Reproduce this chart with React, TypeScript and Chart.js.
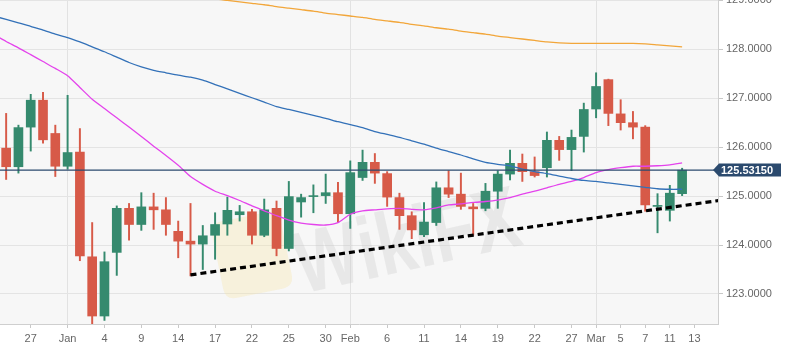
import { useEffect, useRef } from "react";
import { Chart, registerables } from "chart.js";

Chart.register(...registerables);

// Trading days (Dec 25, 2018 .. Mar 12, 2019)
const dates = [
  "Dec 25", "Dec 26", "Dec 27", "Dec 28", "Dec 31", "Jan 1", "Jan 2", "Jan 3", "Jan 4", "Jan 7",
  "Jan 8", "Jan 9", "Jan 10", "Jan 11", "Jan 14", "Jan 15", "Jan 16", "Jan 17", "Jan 18", "Jan 21",
  "Jan 22", "Jan 23", "Jan 24", "Jan 25", "Jan 28", "Jan 29", "Jan 30", "Jan 31", "Feb 1", "Feb 4",
  "Feb 5", "Feb 6", "Feb 7", "Feb 8", "Feb 11", "Feb 12", "Feb 13", "Feb 14", "Feb 15", "Feb 18",
  "Feb 19", "Feb 20", "Feb 21", "Feb 22", "Feb 25", "Feb 26", "Feb 27", "Feb 28", "Mar 1", "Mar 4",
  "Mar 5", "Mar 6", "Mar 7", "Mar 8", "Mar 11", "Mar 12",
];
const opens = [
  125.98, 125.60, 126.41, 126.96, 126.28, 125.61, 125.90, 123.76, 122.55, 123.85,
  124.75, 124.42, 124.78, 124.72, 124.28, 124.08, 124.02, 124.20, 124.43, 124.62,
  124.68, 124.20, 124.75, 123.93, 124.88, 124.99, 125.01, 125.07, 124.64, 125.38,
  125.69, 125.46, 124.97, 124.60, 124.21, 124.46, 125.17, 125.04, 124.78, 124.75,
  125.10, 125.45, 125.67, 125.50, 125.58, 126.14, 125.95, 126.22, 126.78, 127.38,
  126.68, 126.50, 126.41, 124.79, 124.71, 125.05,
];
const highs = [
  126.69, 126.45, 127.08, 127.12, 126.45, 127.06, 126.38, 124.46, 123.86, 124.80,
  124.85, 125.07, 125.06, 124.97, 124.49, 124.85, 124.40, 124.66, 124.98, 124.81,
  124.73, 124.94, 124.90, 125.30, 125.04, 125.23, 125.45, 125.28, 125.72, 125.94,
  125.87, 125.50, 125.06, 124.68, 124.87, 125.29, 125.52, 125.47, 124.85, 125.26,
  125.52, 125.94, 125.86, 125.80, 126.31, 126.22, 126.35, 126.90, 127.52, 127.39,
  126.97, 126.73, 126.44, 125.05, 125.22, 125.57,
];
const lows = [
  125.34, 125.47, 125.92, 126.08, 125.40, 125.55, 123.68, 121.80, 122.46, 123.38,
  124.10, 124.30, 124.32, 124.20, 123.74, 123.37, 123.50, 123.71, 124.20, 124.49,
  124.02, 124.17, 123.78, 123.88, 124.57, 124.66, 124.85, 124.46, 124.34, 125.32,
  125.26, 124.79, 124.32, 124.13, 124.17, 124.40, 124.97, 124.73, 124.20, 124.70,
  124.75, 125.33, 125.30, 125.39, 125.39, 125.73, 125.52, 125.90, 126.60, 126.44,
  126.35, 126.17, 124.69, 124.25, 124.49, 125.01,
];
const closes = [
  125.60, 126.40, 126.96, 126.15, 125.61, 125.89, 123.78, 122.55, 123.66, 124.75,
  124.42, 124.78, 124.72, 124.42, 124.08, 124.02, 124.19, 124.42, 124.71, 124.68,
  124.20, 124.72, 123.93, 124.99, 124.97, 125.01, 125.07, 124.64, 125.48, 125.69,
  125.47, 124.98, 124.60, 124.31, 124.47, 125.17, 125.04, 124.79, 124.74, 125.10,
  125.45, 125.67, 125.50, 125.42, 126.14, 125.95, 126.20, 126.77, 127.24, 126.69,
  126.50, 126.41, 124.82, 124.81, 125.06, 125.53,
];

// Moving averages, one value per day starting Dec 24 (one day before the first candle)
const maOrange = [
  129.63, 129.60, 129.57, 129.53, 129.50, 129.47, 129.43, 129.40, 129.37, 129.33,
  129.30, 129.27, 129.23, 129.20, 129.17, 129.13, 129.10, 129.07, 129.03, 129.00,
  128.97, 128.94, 128.91, 128.87, 128.84, 128.81, 128.78, 128.74, 128.71, 128.68,
  128.65, 128.61, 128.58, 128.55, 128.51, 128.48, 128.44, 128.41, 128.37, 128.34,
  128.31, 128.27, 128.24, 128.21, 128.18, 128.15, 128.13, 128.12, 128.12, 128.12,
  128.12, 128.12, 128.12, 128.11, 128.09, 128.07, 128.05,
];
const maBlue = [
  128.68, 128.61, 128.54, 128.47, 128.39, 128.31, 128.24, 128.15, 128.05, 127.95,
  127.84, 127.73, 127.64, 127.57, 127.52, 127.47, 127.43, 127.37, 127.28, 127.19,
  127.10, 127.01, 126.92, 126.83, 126.77, 126.71, 126.65, 126.59, 126.52, 126.46,
  126.40, 126.32, 126.26, 126.20, 126.13, 126.06, 125.98, 125.91, 125.84, 125.76,
  125.69, 125.65, 125.62, 125.55, 125.50, 125.46, 125.41, 125.36, 125.32, 125.30,
  125.27, 125.24, 125.21, 125.18, 125.15, 125.14, 125.14,
];
const maMagenta = [
  128.30, 128.16, 128.03, 127.89, 127.75, 127.61, 127.46, 127.22, 126.98, 126.79,
  126.60, 126.41, 126.22, 126.02, 125.83, 125.63, 125.40, 125.24, 125.10, 125.01,
  124.91, 124.80, 124.70, 124.60, 124.51, 124.45, 124.42, 124.41, 124.46, 124.63,
  124.70, 124.72, 124.74, 124.75, 124.73, 124.72, 124.76, 124.82, 124.84, 124.87,
  124.89, 124.92, 124.97, 125.04, 125.10, 125.17, 125.24, 125.30, 125.38, 125.48,
  125.54, 125.58, 125.61, 125.61, 125.62, 125.64, 125.68,
];

const lastPrice = 125.5315;
const lastPriceLabel = "125.53150";
const trendIdx = [15, 58];
const trendVals = [123.39, 124.91];

const xTickIdx = [2, 5, 8, 11, 14, 17, 20, 23, 26, 28, 31, 34, 37, 40, 43, 46, 48, 50, 52, 54, 56];
const xTickLabels = ["27", "Jan", "4", "9", "14", "17", "22", "25", "30", "Feb", "6", "11", "14", "19", "22", "27", "Mar", "5", "7", "11", "13"];
const monthIdx = [5, 28, 48];
const yTicks = [123, 124, 125, 126, 127, 128, 129];

const X_MIN = -0.5;
const X_MAX = 57.92;
const Y_MIN = 122.387;
const Y_MAX = 129.007;

const GREEN = "#358a6e";
const RED = "#d75a48";
const NAVY = "#2b4a6e";

export default function App() {
  const ref = useRef<HTMLCanvasElement | null>(null);

  useEffect(() => {
    document.body.style.margin = "0";
    const canvas = ref.current;
    if (!canvas) return;
    Chart.defaults.font.family = "'Liberation Sans', Arial, Helvetica, sans-serif";

    const candleColor = (i: number) => (closes[i] >= opens[i] ? GREEN : RED);

    const bgPlugin = {
      id: "bgPlugin",
      beforeDraw(chart: any) {
        const { ctx, chartArea } = chart;
        ctx.save();
        ctx.fillStyle = "#ffffff";
        ctx.fillRect(0, 0, chart.width, chart.height);
        ctx.fillStyle = "#f7f7f7";
        ctx.fillRect(chartArea.left, chartArea.top, chartArea.right - chartArea.left, chartArea.bottom - chartArea.top);
        ctx.restore();
      },
      beforeDatasetsDraw(chart: any) {
        const { ctx } = chart;
        ctx.save();
        // watermark logo
        ctx.translate(252, 255);
        ctx.rotate(-0.2);
        ctx.fillStyle = "rgba(245, 228, 170, 0.35)";
        const w = 70, h = 78, r = 12;
        ctx.beginPath();
        ctx.moveTo(-w / 2 + r, -h / 2);
        ctx.lineTo(w / 2 - r, -h / 2);
        ctx.quadraticCurveTo(w / 2, -h / 2, w / 2, -h / 2 + r);
        ctx.lineTo(w / 2, h / 2 - r);
        ctx.quadraticCurveTo(w / 2, h / 2, w / 2 - r, h / 2);
        ctx.lineTo(-w / 2 + r, h / 2);
        ctx.quadraticCurveTo(-w / 2, h / 2, -w / 2, h / 2 - r);
        ctx.lineTo(-w / 2, -h / 2 + r);
        ctx.quadraticCurveTo(-w / 2, -h / 2, -w / 2 + r, -h / 2);
        ctx.fill();
        ctx.restore();
        ctx.save();
        ctx.translate(302, 294);
        ctx.rotate(-0.22);
        ctx.scale(0.78, 1);
        ctx.font = "bold 88px 'Liberation Sans', Arial, sans-serif";
        ctx.fillStyle = "rgba(200, 200, 200, 0.3)";
        ctx.fillText("WikiFX", 0, 0);
        ctx.restore();
      },
      afterDraw(chart: any) {
        const { ctx, scales } = chart;
        const y = Math.round(scales.y.getPixelForValue(lastPrice));
        const x0 = chart.chartArea.right - 5;
        ctx.save();
        ctx.fillStyle = NAVY;
        ctx.beginPath();
        ctx.moveTo(x0, y);
        ctx.lineTo(x0 + 6, y - 6.5);
        ctx.lineTo(781, y - 6.5);
        ctx.lineTo(781, y + 6.5);
        ctx.lineTo(x0 + 6, y + 6.5);
        ctx.closePath();
        ctx.fill();
        ctx.fillStyle = "#ffffff";
        ctx.font = "bold 11px 'Liberation Sans', Arial, sans-serif";
        ctx.textBaseline = "middle";
        ctx.textAlign = "left";
        ctx.fillText(lastPriceLabel, x0 + 8, y + 0.5);
        ctx.restore();
      },
    };

    const chart = new Chart(canvas, {
      type: "bar",
      data: {
        datasets: [
          {
            type: "line",
            data: maOrange.map((v, k) => ({ x: k - 1, y: v })),
            borderColor: "#f2a63a",
            borderWidth: 1.3,
            pointRadius: 0,
            tension: 0.2,
            order: 1,
          } as any,
          {
            type: "line",
            data: maBlue.map((v, k) => ({ x: k - 1, y: v })),
            borderColor: "#3371b8",
            borderWidth: 1.3,
            pointRadius: 0,
            tension: 0.2,
            order: 1,
          },
          {
            type: "line",
            data: maMagenta.map((v, k) => ({ x: k - 1, y: v })),
            borderColor: "#e443ec",
            borderWidth: 1.3,
            pointRadius: 0,
            tension: 0.2,
            order: 1,
          },
          {
            type: "line",
            data: [
              { x: X_MIN, y: lastPrice },
              { x: X_MAX, y: lastPrice },
            ],
            borderColor: NAVY,
            borderWidth: 1.3,
            pointRadius: 0,
            order: 0,
          },
          {
            type: "line",
            data: trendIdx.map((x, k) => ({ x, y: trendVals[k] })),
            borderColor: "#000000",
            borderWidth: 3.2,
            borderDash: [6, 4],
            pointRadius: 0,
            order: 0,
          },
          {
            type: "bar",
            data: dates.map((_, i) => ({ x: i, y: [opens[i], closes[i]] })),
            backgroundColor: (c: any) => candleColor(c.dataIndex),
            borderWidth: 0,
            barThickness: 9,
            grouped: false,
            order: 2,
          } as any,
          {
            type: "bar",
            data: dates.map((_, i) => ({ x: i, y: [lows[i], highs[i]] })),
            backgroundColor: (c: any) => candleColor(c.dataIndex),
            borderWidth: 0,
            barThickness: 1.3,
            grouped: false,
            order: 3,
          } as any,
        ],
      },
      options: {
        responsive: false,
        animation: false,
        layout: { padding: 0, autoPadding: false } as any,
        plugins: { legend: { display: false }, tooltip: { enabled: false } },
        scales: {
          x: {
            type: "linear",
            position: "bottom",
            min: X_MIN,
            max: X_MAX,
            offset: false,
            grid: {
              offset: false,
              color: (c: any) => (c.tick && monthIdx.includes(c.tick.value) ? "#e2e2e2" : "rgba(0,0,0,0)"),
              tickColor: "#c8c8c8",
              tickLength: 4,
              lineWidth: 1,
            },
            border: { display: true, color: "#cfcfcf" },
            ticks: {
              autoSkip: false,
              maxRotation: 0,
              padding: 4,
              color: "#666666",
              font: { size: 11 },
              callback: (v: any) => {
                const k = xTickIdx.indexOf(Number(v));
                return k >= 0 ? xTickLabels[k] : "";
              },
            },
            afterBuildTicks: (s: any) => {
              s.ticks = xTickIdx.map((v) => ({ value: v }));
            },
            afterFit: (s: any) => {
              s.height = 30;
              s.paddingLeft = 0;
              s.paddingRight = 0;
            },
          } as any,
          y: {
            type: "linear",
            position: "right",
            min: Y_MIN,
            max: Y_MAX,
            beginAtZero: false,
            grid: { color: "#e4e4e4", tickColor: "#c8c8c8", tickLength: 5 },
            border: { display: true, color: "#cfcfcf" },
            ticks: {
              padding: 3,
              color: "#666666",
              font: { size: 11 },
              callback: (v: any) => Number(v).toFixed(4),
            },
            afterBuildTicks: (s: any) => {
              s.ticks = yTicks.map((v) => ({ value: v }));
            },
            afterFit: (s: any) => {
              s.width = 68;
              s.paddingTop = 0;
              s.paddingBottom = 0;
            },
          } as any,
        },
      },
      plugins: [bgPlugin],
    });

    return () => chart.destroy();
  }, []);

  return (
    <div style={{ position: "absolute", left: 0, top: 0, width: 786, height: 354 }}>
      <canvas ref={ref} width={786} height={354} style={{ width: 786, height: 354 }} />
    </div>
  );
}
